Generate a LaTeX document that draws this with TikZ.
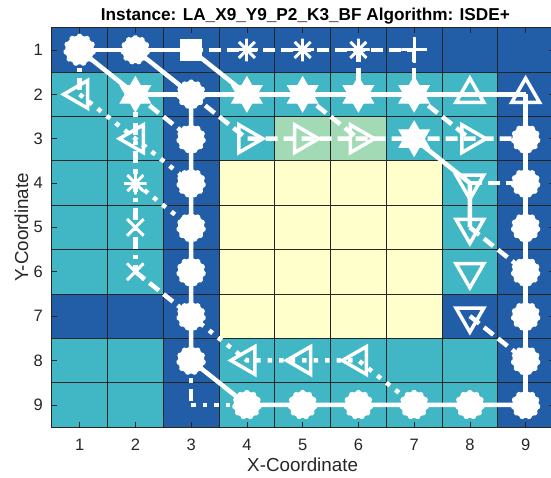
\documentclass[tikz,border=0pt]{standalone}
\usepackage{fontspec}
\setmainfont{Liberation Sans}
\usetikzlibrary{shapes.geometric,backgrounds,positioning}
\definecolor{cellblue}{HTML}{225EA8}
\definecolor{cellteal}{HTML}{41B6C4}
\definecolor{cellgreen}{HTML}{A1DAB4}
\definecolor{cellyellow}{HTML}{FFFFCC}
\definecolor{axgray}{HTML}{262626}

\begin{document}
\begin{tikzpicture}[x=55.75pt,y=-44.35pt,font=\fontsize{16.5}{18}\selectfont]
\tikzstyle{solidln}=[white,line width=4.5pt]
\tikzstyle{dashln}=[solidln,dash pattern=on 12pt off 6pt]
\tikzstyle{dotln}=[solidln,dash pattern=on 4.5pt off 7pt]
\tikzstyle{dashdotln}=[solidln,dash pattern=on 12pt off 6pt on 4.5pt off 6pt]
\tikzstyle{flower}=[star,star points=11,star point ratio=1.3,fill=white,draw=white,line width=1.5pt,rounded corners=1.5pt,minimum size=30pt,inner sep=0pt]
\tikzstyle{hexa}=[star,star points=6,star point ratio=1.73,fill=white,draw=white,line width=1pt,minimum size=35pt,inner sep=0pt]
\tikzstyle{tri}=[regular polygon,regular polygon sides=3,draw=white,line width=3.5pt,minimum size=32pt,inner sep=0pt]
\tikzstyle{trileft}=[tri,shape border rotate=90]
\tikzstyle{triright}=[tri,shape border rotate=-90]
\tikzstyle{tridown}=[tri,shape border rotate=180]
\tikzstyle{sq}=[rectangle,fill=white,draw=white,line width=2pt,minimum size=20pt,inner sep=0pt]
\tikzstyle{ast}=[circle,minimum size=23pt,inner sep=0pt,path picture={\foreach \a in {0,45,90,135} \draw[white,line width=3pt] (path picture bounding box.center) ++(\a:12pt) -- ++(\a+180:24pt);}]
\tikzstyle{plusmk}=[circle,minimum size=26pt,inner sep=0pt,path picture={\foreach \a in {0,90} \draw[white,line width=3pt] (path picture bounding box.center) ++(\a:13pt) -- ++(\a+180:26pt);}]
\tikzstyle{xmk}=[circle,minimum size=24pt,inner sep=0pt,path picture={\foreach \a in {45,135} \draw[white,line width=3pt] (path picture bounding box.center) ++(\a:12pt) -- ++(\a+180:24pt);}]
\tikzstyle{lbl}=[text=axgray,inner sep=0pt]
\useasboundingbox (-0.428,-0.127) rectangle (9.455,10.628);

% cells
\begin{scope}[on background layer]
\fill[cellteal] (0.5,0.5) rectangle (9.5,9.5);
\fill[cellblue] (0.5,0.5) rectangle (9.5,1.5);
\fill[cellblue] (2.5,0.5) rectangle (3.5,9.5);
\fill[cellblue] (8.5,0.5) rectangle (9.5,9.5);
\fill[cellblue] (0.5,6.5) rectangle (2.5,7.5);
\fill[cellblue] (7.5,6.5) rectangle (8.5,7.5);
\fill[cellyellow] (3.5,3.5) rectangle (7.5,7.5);
\fill[cellgreen] (4.5,2.5) rectangle (6.5,3.5);
\foreach \k in {1.5,2.5,...,8.5} {
  \draw[black!85,line width=0.8pt] (\k,0.5) -- (\k,9.5);
  \draw[black!85,line width=0.8pt] (0.5,\k) -- (9.5,\k);
}
\foreach \i in {1,...,9}
  \draw[axgray,line width=0.6pt] (\i,9.5) -- ++(0,5pt) (\i,0.5) -- ++(0,-5pt)
    (0.5,\i) -- ++(5pt,0) (9.5,\i) -- ++(-5pt,0);
\end{scope}
\draw[axgray,line width=0.7pt] (0.5,0.5) rectangle (9.5,9.5);

% markers
\node[flower,minimum size=33pt] (m11) at (1,1) {};
\node[flower] (m21) at (2,1) {};
\node[sq] (m31) at (3,1) {};
\node[ast] (m41) at (4,1) {};
\node[ast] (m51) at (5,1) {};
\node[ast] (m61) at (6,1) {};
\node[plusmk] (m71) at (7,1) {};
\node[trileft] (m12) at (1,2) {};
\node[hexa] (m22) at (2,2) {};
\node[flower] (m32) at (3,2) {};
\node[hexa] (m42) at (4,2) {};
\node[hexa] (m52) at (5,2) {};
\node[hexa] (m62) at (6,2) {};
\node[hexa] (m72) at (7,2) {};
\node[tri] (m82) at (8,2) {};
\node[tri] (m92) at (9,2) {};
\node[trileft] (m23) at (2,3) {};
\node[flower] (m33) at (3,3) {};
\node[triright] (m43) at (4,3) {};
\node[triright] (m53) at (5,3) {};
\node[triright] (m63) at (6,3) {};
\node[hexa] (m73) at (7,3) {};
\node[triright] (m83) at (8,3) {};
\node[flower] (m93) at (9,3) {};
\node[ast] (m24) at (2,4) {};
\node[flower] (m34) at (3,4) {};
\node[tridown] (m84) at (8,4) {};
\node[flower] (m94) at (9,4) {};
\node[xmk] (m25) at (2,5) {};
\node[flower] (m35) at (3,5) {};
\node[tridown] (m85) at (8,5) {};
\node[flower] (m95) at (9,5) {};
\node[xmk] (m26) at (2,6) {};
\node[flower] (m36) at (3,6) {};
\node[tridown] (m86) at (8,6) {};
\node[flower] (m96) at (9,6) {};
\node[flower] (m37) at (3,7) {};
\node[tridown] (m87) at (8,7) {};
\node[flower] (m97) at (9,7) {};
\node[flower] (m38) at (3,8) {};
\node[trileft] (m48) at (4,8) {};
\node[trileft] (m58) at (5,8) {};
\node[trileft] (m68) at (6,8) {};
\node[flower] (m98) at (9,8) {};
\coordinate (m39) at (3,9);
\node[flower] (m49) at (4,9) {};
\node[flower] (m59) at (5,9) {};
\node[flower] (m69) at (6,9) {};
\node[flower] (m79) at (7,9) {};
\node[flower] (m89) at (8,9) {};
\node[flower] (m99) at (9,9) {};

% paths
\begin{scope}[on background layer]
\draw[solidln] (m11.center) -- (m21.center) -- (m31.center);
\draw[solidln] (m11.center) -- (m22.center);
\draw[solidln] (m21.center) -- (m32.center);
\draw[solidln] (m31.center) -- (m42.center);
\draw[solidln] (m22.center) -- (m92.center);
\draw[solidln] (m32.center) -- (m38.center) -- (m49.center) -- (m99.center);
\draw[solidln] (m92.center) -- (m99.center);
\draw[solidln] (m73.center) -- (m84.center) -- (m85.center);
\draw[dashln] (m31.center) -- (m71.center);
\draw[dashln] (m61.center) -- (m62.center);
\draw[dashln] (m71.center) -- (m72.center);
\draw[dashln] (m32.center) -- (m43.center) -- (m93.center);
\draw[dashln] (m52.center) -- (m63.center);
\draw[dashln] (m72.center) -- (m83.center);
\draw[dashln] (m22.center) -- (m33.center);
\draw[dashln] (m84.center) -- (m94.center);
\draw[dashln] (m85.center) -- (m96.center);
\draw[dashln] (m87.center) -- (m98.center);
\draw[dashln] (m26.center) -- (m37.center);
\draw[dashdotln] (m11.center) -- (m12.center);
\draw[dashdotln] (m22.center) -- (m26.center);
\draw[dashdotln] (m38.center) -- (m39);
\draw[dotln] (m12.center) -- (m23.center) -- (m34.center);
\draw[dotln] (m24.center) -- (m35.center);
\draw[dotln] (m37.center) -- (m48.center) -- (m68.center) -- (m79.center);
\draw[dotln] (m39) -- (m49.center);
\end{scope}

% axes text
\foreach \i in {1,...,9} {
  \node[lbl,anchor=base] (xt\i) at (\i,10.04) {\i};
  \node[lbl,anchor=east] (yt\i) at (0.343,\i) {\i};
}
\node[lbl,anchor=base,font=\fontsize{18.8}{20}\selectfont] (xlab) at (5,10.51) {X-Coordinate};
\node[lbl,anchor=base,rotate=90,font=\fontsize{18.8}{20}\selectfont] (ylab) at (0.0745,5) {Y-Coordinate};
\node[anchor=base,inner sep=0pt,font=\fontsize{17.2}{20}\selectfont\bfseries] (title) at (5.05,0.346) {Instance: LA\_X9\_Y9\_P2\_K3\_BF Algorithm: ISDE+};
\end{tikzpicture}
\end{document}
